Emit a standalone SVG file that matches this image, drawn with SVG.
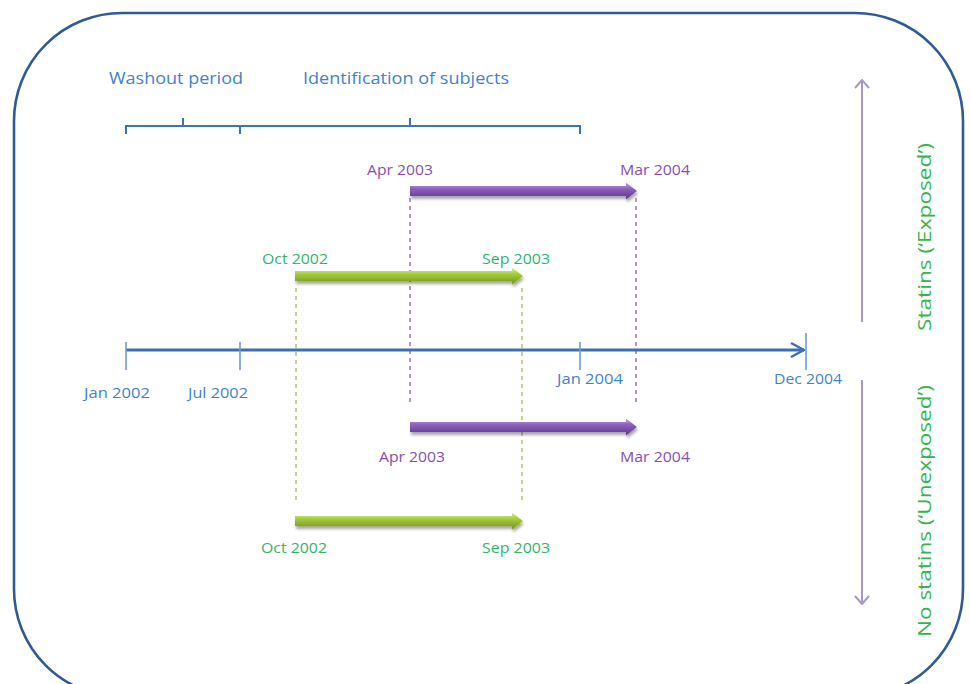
<svg xmlns="http://www.w3.org/2000/svg" width="970" height="684" viewBox="0 0 970 684">
<defs>
<linearGradient id="gp" x1="0" y1="0" x2="0" y2="1">
<stop offset="0" stop-color="#c6a9e6"/>
<stop offset="0.35" stop-color="#8f62c0"/>
<stop offset="1" stop-color="#5a3584"/>
</linearGradient>
<linearGradient id="gg" x1="0" y1="0" x2="0" y2="1">
<stop offset="0" stop-color="#e2f59a"/>
<stop offset="0.35" stop-color="#a8cf3e"/>
<stop offset="1" stop-color="#6f951c"/>
</linearGradient>
<filter id="sh" x="-10%" y="-50%" width="120%" height="250%">
<feGaussianBlur in="SourceAlpha" stdDeviation="1.6"/>
<feOffset dx="1" dy="3" result="b"/>
<feComponentTransfer><feFuncA type="linear" slope="0.35"/></feComponentTransfer>
<feMerge><feMergeNode/><feMergeNode in="SourceGraphic"/></feMerge>
</filter>
<marker id="ax" viewBox="0 0 16 16" refX="15" refY="8" markerWidth="16" markerHeight="16" markerUnits="userSpaceOnUse" orient="auto">
<path d="M2,1 L15,8 L2,15" fill="none" stroke="#3d6fb6" stroke-width="2.4"/>
</marker>
<marker id="vs" viewBox="0 0 16 16" refX="15" refY="8" markerWidth="16" markerHeight="16" markerUnits="userSpaceOnUse" orient="auto">
<path d="M7,1 L15,8 L7,15" fill="none" stroke="#a898c8" stroke-width="2"/>
</marker>
</defs>
<style>
text{font-family:"Open Sans","Liberation Sans",Arial,sans-serif}
.bl{fill:#3f82cc;font-size:15px}
.hd{fill:#3f82cc;font-size:17px}
.pu{fill:#8a4db0;font-size:15px}
.gr{fill:#2fb56a;font-size:15px}
.side{fill:#33b54a;font-size:19px}
.tick{stroke:#6f9bd3;stroke-width:1.6;fill:none}
.br{stroke:#3d74b8;stroke-width:2;fill:none}
.dp{stroke:#9a62c8;stroke-width:1.4;stroke-dasharray:4 4;fill:none}
.dg{stroke:#a6c85a;stroke-width:1.4;stroke-dasharray:4 4;fill:none}
.vline{stroke:#a898c8;stroke-width:2;fill:none}
</style>
<rect width="970" height="684" fill="#ffffff"/>
<rect id="frame" x="14" y="13" width="949" height="684" rx="108" ry="108" fill="none" stroke="#2f5b94" stroke-width="2.6"/>

<g id="brackets">
<path class="br" d="M126,134 L126,126 L240,126 L240,134 M183,126 L183,118"/>
<path class="br" d="M240,126 L580,126 L580,134 M410,126 L410,118"/>
<text class="hd" x="176" y="84" text-anchor="middle" textLength="134" lengthAdjust="spacingAndGlyphs">Washout period</text>
<text class="hd" x="406" y="84" text-anchor="middle" textLength="206" lengthAdjust="spacingAndGlyphs">Identification of subjects</text>
</g>

<g id="connectors">
<path class="dp" d="M410,198 L410,405"/>
<path class="dp" d="M636,198 L636,405"/>
<path class="dg" d="M296,288 L296,500"/>
<path class="dg" d="M522,288 L522,500"/>
<path class="vline" d="M862,322 L862,80" marker-end="url(#vs)"/>
<path class="vline" d="M862,380 L862,604" marker-end="url(#vs)"/>
</g>

<g id="axis">
<path d="M126,350 L804,350" stroke="#3d6fb6" stroke-width="3" fill="none" marker-end="url(#ax)"/>
<path class="tick" d="M126,342 L126,370 M240,342 L240,370 M580,342 L580,370 M806,333 L806,370"/>
<text class="bl" x="117" y="398" text-anchor="middle" textLength="66" lengthAdjust="spacingAndGlyphs">Jan 2002</text>
<text class="bl" x="218" y="398" text-anchor="middle" textLength="60" lengthAdjust="spacingAndGlyphs">Jul 2002</text>
<text class="bl" x="590" y="384" text-anchor="middle" textLength="66" lengthAdjust="spacingAndGlyphs">Jan 2004</text>
<text class="bl" x="808" y="384" text-anchor="middle" textLength="68" lengthAdjust="spacingAndGlyphs">Dec 2004</text>
</g>

<g id="exp-purple">
<path d="M410,186 L626,186 L626,182.5 L637,191 L626,199.5 L626,196 L410,196 Z" fill="url(#gp)" filter="url(#sh)"/>
<text class="pu" x="400" y="175" text-anchor="middle" textLength="66" lengthAdjust="spacingAndGlyphs">Apr 2003</text>
<text class="pu" x="655" y="175" text-anchor="middle" textLength="70" lengthAdjust="spacingAndGlyphs">Mar 2004</text>
</g>

<g id="exp-green">
<path d="M295,271 L512,271 L512,267.5 L523,276 L512,284.5 L512,281 L295,281 Z" fill="url(#gg)" filter="url(#sh)"/>
<text class="gr" x="295" y="264" text-anchor="middle" textLength="66" lengthAdjust="spacingAndGlyphs">Oct 2002</text>
<text class="gr" x="516" y="264" text-anchor="middle" textLength="68" lengthAdjust="spacingAndGlyphs">Sep 2003</text>
</g>

<g id="unexp-purple">
<path d="M410,422 L626,422 L626,418.5 L637,427 L626,435.5 L626,432 L410,432 Z" fill="url(#gp)" filter="url(#sh)"/>
<text class="pu" x="412" y="462" text-anchor="middle" textLength="66" lengthAdjust="spacingAndGlyphs">Apr 2003</text>
<text class="pu" x="655" y="462" text-anchor="middle" textLength="70" lengthAdjust="spacingAndGlyphs">Mar 2004</text>
</g>

<g id="unexp-green">
<path d="M295,516 L512,516 L512,512.5 L523,521 L512,529.5 L512,526 L295,526 Z" fill="url(#gg)" filter="url(#sh)"/>
<text class="gr" x="294" y="553" text-anchor="middle" textLength="66" lengthAdjust="spacingAndGlyphs">Oct 2002</text>
<text class="gr" x="516" y="553" text-anchor="middle" textLength="68" lengthAdjust="spacingAndGlyphs">Sep 2003</text>
</g>

<g id="side-labels">
<text class="side" transform="translate(931,237) rotate(-90)" text-anchor="middle" textLength="188" lengthAdjust="spacingAndGlyphs">Statins (‘Exposed’)</text>
<text class="side" transform="translate(931,511) rotate(-90)" text-anchor="middle" textLength="252" lengthAdjust="spacingAndGlyphs">No statins (‘Unexposed’)</text>
</g>
</svg>
